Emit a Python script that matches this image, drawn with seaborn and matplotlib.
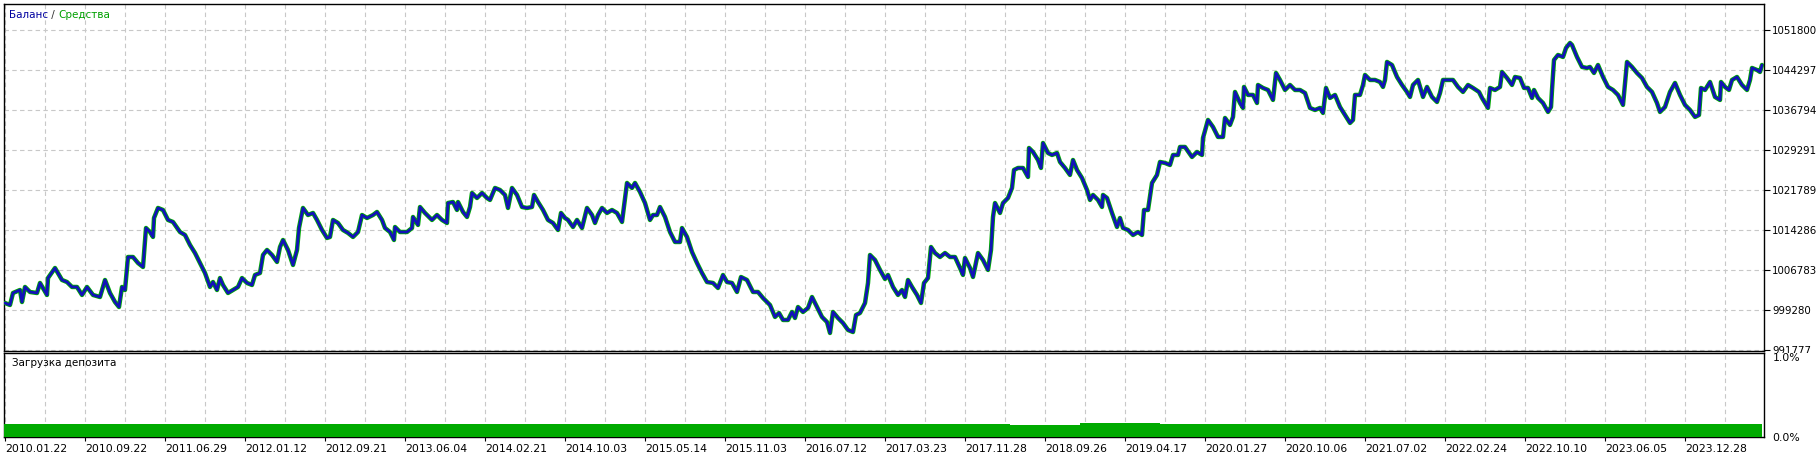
import numpy as np
import pandas as pd
import matplotlib
matplotlib.use("Agg")
import matplotlib.pyplot as plt
import seaborn as sns
from matplotlib.transforms import Bbox, TransformedBbox

# позиция на графике теста (колонка) и баланс счёта
pos = [5, 10, 13, 20, 22, 25, 30, 37, 40, 47, 48, 55, 62, 67, 72, 77, 82, 87, 93, 100,
       105, 110, 115, 119, 122, 125, 128, 133, 138, 143, 146, 150, 153, 154, 158, 163, 168, 173, 180, 185,
       190, 195, 200, 205, 210, 213, 217, 220, 223, 228, 233, 238, 242, 247, 252, 255, 260, 263, 267, 272,
       277, 280, 283, 288, 293, 297, 299, 303, 308, 313, 317, 322, 327, 330, 333, 338, 343, 348, 353, 358,
       362, 367, 373, 377, 382, 385, 390, 394, 395, 400, 407, 412, 413, 418, 420, 425, 432, 437, 442, 447,
       448, 453, 457, 458, 463, 467, 470, 472, 477, 482, 487, 490, 495, 500, 505, 508, 512, 517, 522, 527,
       532, 534, 538, 543, 548, 553, 558, 561, 565, 568, 573, 577, 582, 587, 592, 595, 598, 602, 607, 612,
       617, 622, 627, 632, 635, 640, 645, 650, 653, 657, 660, 665, 670, 675, 680, 682, 687, 692, 697, 702,
       707, 713, 718, 723, 727, 732, 737, 741, 747, 753, 758, 763, 770, 775, 779, 783, 788, 792, 795, 798,
       803, 808, 812, 817, 822, 827, 830, 833, 838, 843, 848, 853, 856, 860, 865, 868, 870, 875, 880, 885,
       888, 893, 898, 902, 905, 908, 912, 917, 921, 924, 928, 931, 935, 940, 945, 950, 955, 960, 963, 965,
       970, 973, 978, 983, 988, 991, 993, 995, 1000, 1003, 1008, 1012, 1014, 1018, 1023, 1028, 1029, 1033, 1038, 1041,
       1043, 1048, 1052, 1057, 1060, 1065, 1070, 1073, 1077, 1082, 1087, 1090, 1093, 1098, 1102, 1103, 1107, 1112, 1117, 1120,
       1123, 1128, 1133, 1138, 1142, 1144, 1148, 1152, 1157, 1160, 1165, 1170, 1173, 1178, 1180, 1185, 1192, 1197, 1202, 1203,
       1208, 1213, 1218, 1223, 1225, 1230, 1233, 1235, 1240, 1243, 1244, 1248, 1253, 1257, 1258, 1263, 1268, 1273, 1276, 1280,
       1285, 1290, 1295, 1300, 1305, 1310, 1315, 1320, 1323, 1326, 1330, 1335, 1340, 1345, 1350, 1353, 1355, 1360, 1363, 1365,
       1370, 1375, 1380, 1383, 1385, 1387, 1392, 1397, 1402, 1407, 1410, 1413, 1418, 1423, 1427, 1432, 1437, 1440, 1443, 1448,
       1453, 1458, 1463, 1468, 1473, 1479, 1482, 1488, 1490, 1495, 1500, 1502, 1507, 1512, 1515, 1520, 1524, 1528, 1532, 1534,
       1538, 1543, 1548, 1551, 1552, 1554, 1558, 1563, 1566, 1570, 1572, 1577, 1582, 1587, 1590, 1594, 1598, 1603, 1608, 1613,
       1618, 1623, 1627, 1632, 1637, 1642, 1647, 1652, 1657, 1660, 1665, 1670, 1675, 1680, 1685, 1690, 1695, 1699, 1701, 1705,
       1710, 1715, 1720, 1721, 1725, 1729, 1732, 1737, 1742, 1747, 1750, 1752, 1757, 1760, 1762]

balance = [1000590, 1000220, 1002470, 1003030, 1000780, 1003600, 1002660, 1002470, 1004350, 1002100,
           1005280, 1007160, 1004910, 1004530, 1003600, 1003600, 1002100, 1003600, 1002100, 1001720,
           1004910, 1002470, 1000780, 999840, 1003600, 1003030, 1009220, 1009220, 1008100, 1007350,
           1014660, 1013910, 1012980, 1016540, 1018420, 1018040, 1016170, 1015790, 1013910, 1013350,
           1011480, 1009970, 1008100, 1006220, 1003600, 1004530, 1003030, 1005280, 1003970, 1002470,
           1003030, 1003600, 1005280, 1004350, 1003970, 1005850, 1006220, 1009600, 1010540, 1009600,
           1008290, 1011100, 1012410, 1010540, 1007720, 1010540, 1014660, 1018420, 1017100, 1017480,
           1016170, 1014290, 1012790, 1012980, 1016170, 1015600, 1014290, 1013730, 1012980, 1013910,
           1017100, 1016540, 1017100, 1017670, 1016170, 1014660, 1013910, 1012410, 1014850, 1013910,
           1013910, 1014660, 1016730, 1015230, 1018600, 1017480, 1016170, 1017100, 1016170, 1015600,
           1019350, 1019540, 1018040, 1019540, 1017670, 1016730, 1018600, 1021230, 1020290, 1021230,
           1020290, 1019920, 1022170, 1021790, 1020860, 1018420, 1022170, 1020860, 1018600, 1018420,
           1018600, 1020860, 1019540, 1018040, 1016170, 1015600, 1014290, 1017480, 1016540, 1016170,
           1014850, 1016170, 1014660, 1018420, 1017100, 1015600, 1017100, 1018420, 1017480, 1018040,
           1017480, 1015790, 1023110, 1022170, 1023110, 1021420, 1019350, 1016170, 1017100, 1017100,
           1018600, 1016730, 1013910, 1012040, 1012040, 1014660, 1012980, 1010160, 1008100, 1006220,
           1004530, 1004350, 1003410, 1005850, 1004530, 1004350, 1002660, 1005470, 1004910, 1002660,
           1002660, 1001530, 1000220, 997970, 998720, 997410, 997410, 998910, 997780, 999840,
           998910, 999660, 1001720, 999840, 997970, 997030, 994970, 998910, 997780, 996840,
           995530, 995150, 998340, 998720, 1000590, 1004350, 1009600, 1008660, 1006790, 1005100,
           1005850, 1003600, 1002100, 1003030, 1001720, 1004910, 1003600, 1002100, 1000590, 1004350,
           1005280, 1011100, 1009970, 1009220, 1009970, 1009220, 1009220, 1007160, 1005850, 1009040,
           1007160, 1005470, 1009970, 1008660, 1006790, 1010540, 1016730, 1019350, 1017480, 1019350,
           1020290, 1022170, 1025550, 1025920, 1025920, 1024230, 1029670, 1028920, 1027420, 1025920,
           1030610, 1028730, 1028360, 1028730, 1027050, 1025920, 1024610, 1027420, 1025550, 1024040,
           1021790, 1019920, 1020860, 1019920, 1018600, 1020860, 1020290, 1017480, 1014850, 1016540,
           1014660, 1014290, 1013350, 1013910, 1013350, 1018040, 1018040, 1023110, 1024610, 1027050,
           1026860, 1026480, 1028360, 1028360, 1029860, 1029860, 1027980, 1028920, 1028360, 1031550,
           1034930, 1033610, 1031740, 1031740, 1035300, 1033990, 1035490, 1040180, 1038110, 1037180,
           1041120, 1039620, 1039620, 1038110, 1041490, 1040930, 1040550, 1038680, 1043740, 1042430,
           1040550, 1041490, 1040550, 1040550, 1039990, 1037180, 1036800, 1037180, 1036240, 1040930,
           1039050, 1039620, 1037360, 1035860, 1034360, 1034930, 1039620, 1039620, 1041490, 1043370,
           1042430, 1042430, 1042050, 1041120, 1042430, 1045810, 1045240, 1042990, 1041490, 1040180,
           1039240, 1041490, 1042430, 1039240, 1041120, 1039240, 1038300, 1039990, 1042430, 1042430,
           1042430, 1041120, 1040180, 1041490, 1040930, 1040180, 1039050, 1037180, 1040930, 1040550,
           1041120, 1043930, 1042800, 1041490, 1042990, 1042800, 1040930, 1040930, 1039050, 1040550,
           1039050, 1038110, 1036430, 1037360, 1040550, 1046180, 1047120, 1046740, 1048430, 1049370,
           1049000, 1046740, 1044870, 1044680, 1044870, 1043740, 1045240, 1042990, 1041120, 1040550,
           1039620, 1037740, 1045810, 1044870, 1043740, 1042800, 1041120, 1040180, 1038110, 1036430,
           1037360, 1040180, 1041870, 1039620, 1037740, 1036800, 1035490, 1035860, 1040930, 1040550,
           1042050, 1039240, 1038680, 1042050, 1041120, 1040550, 1042430, 1042990, 1041490, 1040550,
           1042430, 1044680, 1044300, 1043930, 1045240]

date_labels = ["2010.01.22", "2010.09.22", "2011.06.29", "2012.01.12", "2012.09.21", "2013.06.04",
               "2014.02.21", "2014.10.03", "2015.05.14", "2015.11.03", "2016.07.12", "2017.03.23",
               "2017.11.28", "2018.09.26", "2019.04.17", "2020.01.27", "2020.10.06", "2021.07.02",
               "2022.02.24", "2022.10.10", "2023.06.05", "2023.12.28"]

y_ticks = [991777, 999280, 1006783, 1014286, 1021789, 1029291, 1036794, 1044297, 1051800]

# загрузка депозита, %
load_start = [4, 1010, 1080, 1160]
load_end = [1010, 1080, 1160, 1762]
load_pct = [0.155, 0.145, 0.163, 0.155]

blue = "#1212b8"
green = "#00aa00"
grid_kw = dict(color="#c8c8c8", linestyle=(0, (4, 3)), linewidth=0.8)

sns.set_theme(style="white")
plt.rcParams["font.family"] = ["DejaVu Sans"]

W, H = 1819, 457
fig = plt.figure(figsize=(W / 100, H / 100), dpi=100)
fig.patch.set_facecolor("white")
ax1 = fig.add_axes([4 / W, 106 / H, 1760 / W, 347 / H])
ax2 = fig.add_axes([4 / W, 20 / H, 1760 / W, 84 / H])

df = pd.DataFrame({"pos": pos, "balance": balance})
# средства почти совпадают с балансом: зелёная линия под синей
sns.lineplot(data=df, x="pos", y="balance", ax=ax1, color=green, linewidth=3.2, zorder=3)
sns.lineplot(data=df, x="pos", y="balance", ax=ax1, color=blue, linewidth=2.0, zorder=4)

step = y_ticks[1] - y_ticks[0]
ax1.set_xlim(4, 1764)
ax1.set_ylim(y_ticks[0] - step / 40, y_ticks[-1] + step * 26 / 40)

major_x = np.arange(5, 1764, 80)
minor_x = np.arange(45, 1764, 80)
for ax in (ax1, ax2):
    ax.set_xticks(major_x)
    ax.set_xticks(minor_x, minor=True)
    ax.grid(True, which="both", axis="x", **grid_kw)
    ax.set_axisbelow(True)
    ax.set_xlabel("")
    ax.set_ylabel("")
    for s in ax.spines.values():
        s.set_color("black")
        s.set_linewidth(1.0)

ax1.grid(True, axis="y", **grid_kw)
ax1.set_yticks(y_ticks)
ax1.set_yticklabels([str(v) for v in y_ticks])
ax1.yaxis.tick_right()
ax1.tick_params(axis="y", right=True, length=4, width=0.8, pad=2, labelsize=7.4, colors="black")
ax1.tick_params(axis="x", which="both", bottom=False, labelbottom=False)

# нижняя метка частично перекрыта нижней панелью
clip = TransformedBbox(Bbox([[0, (H - 353) / H], [1, 1]]), fig.transFigure)
for lbl in ax1.get_yticklabels():
    if lbl.get_text() == str(y_ticks[0]):
        lbl.set_clip_box(clip)
        lbl.set_clip_on(True)

ax2.bar(load_start, np.array(load_pct), width=np.array(load_end) - np.array(load_start),
        align="edge", color=green, edgecolor="none", zorder=3)
ax2.set_xlim(4, 1764)
ax2.set_ylim(0, 1.0)
ax2.set_xticklabels(date_labels, ha="left")
ax2.tick_params(axis="x", which="major", bottom=True, length=3, width=0.8, pad=2,
                labelsize=7.8, colors="black")
ax2.tick_params(axis="x", which="minor", bottom=False)
for lbl in ax2.get_xticklabels():
    lbl.set_horizontalalignment("left")
ax2.set_yticks([0, 1.0])
ax2.set_yticklabels(["0.0%", "1.0%"])
ax2.yaxis.tick_right()
ax2.tick_params(axis="y", right=True, length=0, pad=6, labelsize=7.8, colors="black")
ax2.get_yticklabels()[1].set_verticalalignment("top")

ax2.text(8 / 1760, 1 - 10 / 84, "Загрузка депозита", transform=ax2.transAxes,
         fontsize=7.5, color="black", va="center", ha="left")

# легенда "Баланс / Средства"
fig.canvas.draw()
r = fig.canvas.get_renderer()
x0 = 9 / W
y0 = 1 - 15 / H
parts = [("Баланс", "#0000a0"), (" / ", "#303030"), ("Средства", "#00a000")]
for txt, col in parts:
    t = fig.text(x0, y0, txt, color=col, fontsize=7.5, va="center", ha="left")
    bb = t.get_window_extent(renderer=r)
    x0 += bb.width / W

fig.savefig("out.png", dpi=100, facecolor="white")
